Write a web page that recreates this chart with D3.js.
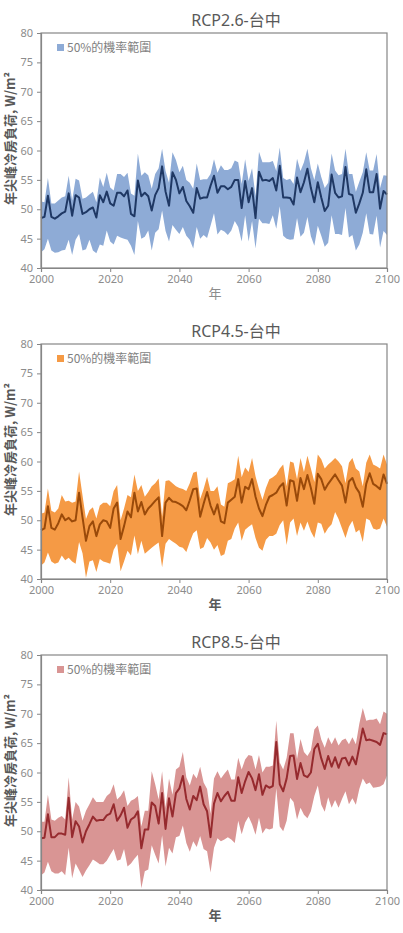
<!DOCTYPE html>
<meta charset="utf-8">
<script src="https://cdn.jsdelivr.net/npm/d3@7"></script>
<style>
  body { margin: 0; background: #fff; }
  svg { display: block; font-family: "Noto Sans", "Noto Sans CJK TC", sans-serif; }
</style>
<div id="chart"></div>
<script>
// years 2000..2100
var years = d3.range(2000, 2101);
var scenarios = ["RCP2.6-台中", "RCP4.5-台中", "RCP8.5-台中"];
var yTicks = [40, 45, 50, 55, 60, 65, 70, 75, 80];
var xTicks = [2000, 2020, 2040, 2060, 2080, 2100];
var legendLabel = "50%的機率範圍";
var xLabel = "年";
var yLabel = "年尖峰冷房負荷, W/m²";

// RCP2.6
var rcp26Mid = [48.5,48.7,52.3,48.7,48.4,48.8,49.3,49.6,52.7,48.9,52.4,52.0,49.2,49.5,50.0,50.3,48.6,52.4,51.2,53.0,
  51.0,50.6,52.8,52.8,52.2,53.2,49.2,48.8,54.9,52.2,52.8,52.2,49.8,52.4,53.6,57.3,53.0,50.6,56.3,55.0,
  52.7,53.8,51.4,50.5,49.4,53.6,51.8,52.0,52.0,54.0,55.7,52.8,53.9,53.9,53.4,53.8,55.0,55.0,50.2,54.8,
  51.2,53.6,48.5,56.4,54.9,55.0,54.8,55.3,53.2,57.4,52.0,52.0,51.9,50.8,55.4,52.9,54.6,56.9,53.6,51.2,
  54.6,52.0,49.7,50.6,55.9,52.8,52.0,52.2,57.2,52.6,52.4,49.4,51.0,52.8,56.8,52.9,52.9,56.0,50.1,53.1,52.5];
var rcp26Hi = [51.3,51.2,55.3,51.0,51.0,51.5,52.0,52.2,55.7,51.5,55.2,54.9,51.8,52.0,52.5,53.0,51.2,55.4,53.8,56.2,
  53.7,53.2,56.0,56.0,55.5,56.2,52.7,52.3,59.5,55.7,56.3,55.8,53.5,56.0,57.0,60.3,56.5,54.5,59.7,58.4,
  56.3,57.4,55.0,54.5,53.5,57.8,55.0,55.1,55.1,56.0,58.5,56.2,57.5,56.7,56.7,57.0,58.3,58.0,54.3,58.5,
  54.8,57.0,52.2,59.8,58.0,58.0,58.0,58.2,56.5,60.5,55.3,55.0,55.2,54.3,58.6,56.5,58.0,60.3,57.0,55.0,
  57.8,55.5,53.6,54.5,59.5,56.6,55.8,56.0,60.3,56.0,56.0,53.0,54.7,56.3,59.7,56.6,56.6,59.4,53.6,55.8,55.7];
var rcp26Lo = [42.7,43.2,45.0,43.0,42.6,42.7,43.0,43.1,44.8,42.2,44.8,45.8,43.0,43.2,44.8,43.0,42.5,44.0,43.8,46.4,
  44.5,44.0,45.5,45.2,45.0,44.8,43.8,42.2,48.0,45.0,45.3,46.4,43.0,46.0,46.6,49.8,46.3,44.5,47.3,46.5,
  45.8,47.0,45.5,44.8,43.3,47.0,45.0,45.6,45.1,47.2,49.3,45.7,46.5,46.2,45.6,46.4,48.0,47.0,44.5,49.0,
  44.5,48.0,43.3,48.4,47.6,47.6,47.5,49.0,46.7,50.5,45.5,45.0,44.8,44.9,48.5,45.3,46.0,48.7,45.4,43.8,
  47.2,45.5,43.6,44.3,49.0,45.8,45.8,45.6,50.2,45.2,45.6,43.0,44.0,46.0,49.3,45.8,45.7,48.9,43.5,46.3,45.6];

// RCP4.5
var rcp45Mid = [48.3,48.6,52.4,48.7,48.4,49.5,51.0,50.0,50.4,49.8,50.0,54.7,50.5,46.5,49.0,49.8,47.3,49.3,50.0,49.8,
  48.7,52.0,53.0,46.8,49.0,51.5,50.5,54.7,51.5,53.1,51.0,52.0,52.6,53.3,53.9,47.3,53.0,53.8,53.2,53.1,
  52.8,52.4,51.7,53.4,55.3,55.4,50.6,52.8,54.8,52.5,51.0,52.7,49.8,49.5,53.0,53.5,54.0,57.0,53.0,55.7,
  55.3,57.0,54.0,52.0,50.7,52.6,54.0,54.3,54.7,55.7,56.3,52.5,56.8,56.6,53.3,57.2,55.3,57.7,55.5,52.8,
  57.9,57.0,55.2,56.2,57.0,57.8,56.8,55.9,53.0,56.6,57.2,55.6,54.7,52.3,56.2,58.0,56.2,55.8,55.3,57.8,56.2];
var rcp45Hi = [51.1,51.3,55.4,51.6,51.3,52.0,54.3,53.2,53.3,53.0,53.2,58.3,54.2,50.2,51.7,52.2,50.3,52.5,53.0,53.0,
  52.4,55.0,56.0,50.0,52.0,54.3,53.9,57.8,55.0,56.0,54.0,54.8,55.8,56.3,57.1,50.6,56.7,56.8,56.3,55.8,
  55.5,55.3,55.0,56.3,58.1,58.3,53.6,55.3,57.4,55.0,55.0,55.8,52.7,52.3,56.3,56.6,57.0,61.0,57.3,59.0,
  58.2,60.6,57.5,55.3,53.5,55.5,57.0,57.3,57.8,58.8,59.5,55.8,60.0,59.8,57.0,60.6,58.2,61.0,58.8,56.5,
  61.2,60.4,58.8,59.5,60.0,60.6,60.0,59.2,56.3,59.8,60.6,58.8,58.3,55.8,59.8,61.2,59.5,59.2,58.8,61.2,59.5];
var rcp45Lo = [42.3,42.8,44.5,43.0,42.6,42.8,44.0,43.2,43.6,43.0,42.6,46.3,44.4,40.2,43.0,43.2,41.2,43.4,43.0,42.8,
  42.6,45.0,46.0,41.3,43.0,44.8,44.0,47.4,44.2,46.5,44.3,44.8,45.3,45.8,46.2,42.0,46.0,46.8,46.4,46.0,
  45.5,45.3,44.6,46.3,47.8,48.3,45.1,45.4,47.0,46.2,45.0,45.8,43.9,44.2,46.5,46.8,48.6,49.6,46.5,48.4,
  48.9,49.3,47.0,45.3,44.8,46.7,47.3,47.3,47.7,49.2,50.0,45.8,49.6,50.3,47.3,49.6,48.2,49.8,48.1,47.0,
  49.6,49.4,47.7,48.7,49.3,51.4,50.2,48.6,47.0,48.9,49.9,47.9,48.4,46.3,50.3,50.0,48.6,48.4,48.6,50.3,48.9];

// RCP8.5
var rcp85Mid = [48.8,48.9,52.9,49.0,49.0,49.6,49.6,49.4,55.7,49.0,51.7,50.8,48.1,50.0,51.2,52.5,51.8,51.9,51.9,52.7,
  53.0,54.6,51.8,52.7,54.0,50.6,52.0,52.4,53.4,47.1,50.3,50.3,54.9,54.3,51.3,56.5,50.4,55.6,52.5,56.5,
  57.3,59.4,55.5,53.7,56.0,55.3,57.6,54.6,53.4,49.0,54.7,56.5,55.1,56.0,56.7,55.2,55.2,59.2,56.5,58.5,
  60.1,59.0,57.0,59.7,56.2,57.8,57.4,57.7,65.2,58.0,56.8,59.0,62.8,62.9,58.9,61.6,59.5,59.2,60.0,64.0,
  64.9,62.4,60.6,62.8,61.0,62.6,60.8,62.4,62.5,61.2,62.7,61.4,64.4,67.5,65.5,65.6,65.4,65.2,64.7,66.7,66.5];
var rcp85Hi = [51.6,51.6,56.2,52.0,51.8,52.3,52.6,52.0,59.2,52.0,55.0,54.2,51.8,53.5,54.6,55.8,55.0,55.0,55.0,56.0,
  56.5,58.0,55.4,56.0,57.0,54.3,55.2,55.5,56.0,50.8,53.5,53.5,60.2,58.0,55.4,60.2,54.0,59.0,56.2,60.5,
  61.0,63.5,59.2,57.8,59.8,59.0,61.0,58.3,57.2,53.0,59.0,60.2,59.0,59.8,60.5,58.8,58.8,62.5,60.5,62.2,
  63.0,62.8,60.5,63.0,60.0,61.0,61.0,61.2,68.8,61.7,60.5,62.5,66.7,66.7,62.3,65.7,63.5,62.8,63.8,67.3,
  68.0,65.6,64.2,66.0,64.8,66.0,64.6,65.5,65.8,64.8,66.0,64.8,68.3,71.0,68.8,69.0,69.0,69.2,68.2,70.4,70.0];
var rcp85Lo = [42.5,43.0,44.8,43.2,42.8,42.8,43.2,42.5,47.2,42.0,44.5,43.4,42.2,43.3,44.2,45.2,44.8,44.4,44.4,45.0,
  46.0,47.0,45.0,45.2,47.0,44.0,44.5,45.3,46.0,40.3,43.2,43.5,47.6,46.0,44.5,49.3,44.0,47.2,46.2,49.0,
  49.2,51.0,48.0,46.5,48.3,47.3,49.2,47.0,46.6,43.0,47.2,48.8,48.3,48.6,49.0,48.6,48.0,51.8,49.5,51.5,
  52.5,51.2,49.4,52.3,49.6,50.5,50.3,50.5,57.3,50.8,50.0,51.8,55.7,55.0,52.0,54.0,52.8,52.2,53.4,56.0,
  57.8,54.5,53.3,55.8,54.0,55.3,54.0,55.5,56.8,54.6,55.6,54.5,57.2,59.0,58.0,58.3,57.4,57.5,57.6,58.0,59.5];

var bandColors = ["#8eabd6", "#f59a45", "#d99594"];
var lineColors = ["#1f3864", "#9a4a0a", "#962a2e"];

var panels = [
  { title: scenarios[0], mid: rcp26Mid, hi: rcp26Hi, lo: rcp26Lo },
  { title: scenarios[1], mid: rcp45Mid, hi: rcp45Hi, lo: rcp45Lo },
  { title: scenarios[2], mid: rcp85Mid, hi: rcp85Hi, lo: rcp85Lo }
];

var W = 403, H = 933;
var margin = { left: 41, right: 16, top: 33 };
var plotH = 235, panelStep = 311;
var plotW = W - margin.left - margin.right;

var svg = d3.select("#chart").append("svg")
  .attr("width", W).attr("height", H);

var x = d3.scaleLinear().domain([2000, 2100]).range([0, plotW]);
var y = d3.scaleLinear().domain([40, 80]).range([plotH, 0]);

panels.forEach(function(p, i) {
  var g = svg.append("g")
    .attr("transform", "translate(" + margin.left + "," + (margin.top + i * panelStep) + ")");

  // title
  svg.append("text")
    .attr("x", 236).attr("y", 26 + i * panelStep)
    .attr("text-anchor", "middle")
    .attr("font-size", "16px")
    .attr("fill", "#595959")
    .text(p.title);

  // band
  var area = d3.area()
    .x(function(d, j) { return x(years[j]); })
    .y0(function(d, j) { return y(p.lo[j]); })
    .y1(function(d, j) { return y(p.hi[j]); });
  g.append("path").datum(years)
    .attr("d", area)
    .attr("fill", bandColors[i]);

  // median line
  var line = d3.line()
    .x(function(d, j) { return x(years[j]); })
    .y(function(d) { return y(d); });
  g.append("path").datum(p.mid)
    .attr("d", line)
    .attr("fill", "none")
    .attr("stroke", lineColors[i])
    .attr("stroke-width", 2)
    .attr("stroke-linejoin", "round");

  // frame (top + right)
  g.append("rect")
    .attr("x", 0).attr("y", 0)
    .attr("width", plotW).attr("height", plotH)
    .attr("fill", "none")
    .attr("stroke", "#868686")
    .attr("stroke-width", 1.2);

  // axes
  var yAxis = g.append("g")
    .call(d3.axisLeft(y).tickValues(yTicks).tickSize(4).tickPadding(4));
  var xAxis = g.append("g")
    .attr("transform", "translate(0," + plotH + ")")
    .call(d3.axisBottom(x).tickValues(xTicks).tickFormat(d3.format("d")).tickSize(4).tickPadding(3));
  [yAxis, xAxis].forEach(function(a) {
    a.select(".domain").attr("stroke", "#868686").attr("stroke-width", 1.2);
    a.selectAll(".tick line").attr("stroke", "#868686");
    a.selectAll("text").attr("fill", "#8c8c8c").attr("font-size", "11px")
      .attr("font-family", "'Noto Sans', sans-serif");
  });

  // x label
  g.append("text")
    .attr("x", plotW / 2 + 1).attr("y", plotH + 30)
    .attr("text-anchor", "middle")
    .attr("font-size", "13px")
    .attr("font-weight", i === 0 ? "normal" : "bold")
    .attr("fill", i === 0 ? "#8c8c8c" : "#595959")
    .attr("font-family", "'Noto Sans CJK TC', sans-serif")
    .text(xLabel);

  // y label
  g.append("text")
    .attr("transform", "translate(" + (-26) + "," + (plotH / 2 - 12) + ") rotate(-90)")
    .attr("text-anchor", "middle")
    .attr("font-size", "13px")
    .attr("font-weight", "bold")
    .attr("fill", "#595959")
    .attr("font-family", "'Noto Sans CJK TC', sans-serif")
    .text(yLabel);

  // legend
  g.append("rect")
    .attr("x", 16).attr("y", 11)
    .attr("width", 7).attr("height", 7)
    .attr("fill", bandColors[i]);
  g.append("text")
    .attr("x", 26).attr("y", 18.5)
    .attr("font-size", "12px")
    .attr("fill", "#7f7f7f")
    .attr("font-family", "'Noto Sans CJK TC', sans-serif")
    .text(legendLabel);
});
</script>
